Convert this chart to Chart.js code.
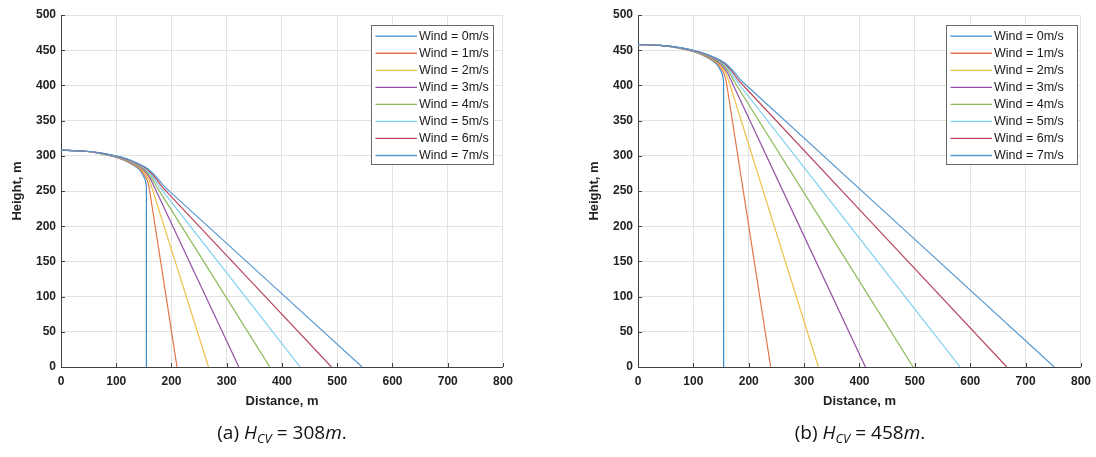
<!DOCTYPE html>
<html>
<head>
<meta charset="utf-8">
<script src="https://cdn.jsdelivr.net/npm/chart.js@4.4.0/dist/chart.umd.min.js"></script>
<style>
html,body{margin:0;padding:0;background:#fff;width:1096px;height:457px;overflow:hidden;}
canvas{position:absolute;top:0;display:block;}
#chartA{left:0;}
#chartB{left:577px;}
.cap{position:absolute;top:420px;transform:translateX(-50%);font-family:"Open Sans","DejaVu Sans",sans-serif;font-size:19px;color:#111;white-space:nowrap;line-height:24px;}
.cap i{font-style:italic;}
.cap sub{font-size:13px;vertical-align:-4px;line-height:0;}
.cap .eq{margin:0 5px;}
#capA{left:282px;}
#capB{left:860px;}
</style>
</head>
<body>
<canvas id="chartA" width="520" height="420"></canvas>
<canvas id="chartB" width="521" height="420"></canvas>
<div class="cap" id="capA">(a) <i>H</i><sub><i>CV</i></sub><span class="eq">=</span>308<i>m</i>.</div>
<div class="cap" id="capB">(b) <i>H</i><sub><i>CV</i></sub><span class="eq">=</span>458<i>m</i>.</div>
<script>
// ---- data ----
const windLabels = ['Wind = 0m/s','Wind = 1m/s','Wind = 2m/s','Wind = 3m/s','Wind = 4m/s','Wind = 5m/s','Wind = 6m/s','Wind = 7m/s'];

// panel (a): H_CV = 308 m
const heightsA = [308, 306.8, 303.2, 297.4, 289.5, 281, 273, 266.5, 261.5, 257.5, 254.5, 249.5, 0];
const distA0 = [0, 38, 72, 102, 125, 141, 148, 152, 153.5, 154.3, 154.6, 154.6, 154.6];
const distA1 = [0, 38.5, 73, 103.5, 127, 143.5, 151, 155.5, 157.5, 158.8, 159.6, 160.6, 210];
const distA2 = [0, 39, 74, 105, 129, 146, 154, 159, 161.5, 163.3, 164.6, 166.6, 267];
const distA3 = [0, 39.5, 75, 106.5, 131, 148.5, 157, 162.5, 165.5, 167.8, 169.6, 172.6, 322];
const distA4 = [0, 40, 76, 108, 133, 151, 160, 166, 169.5, 172.3, 174.6, 178.6, 378];
const distA5 = [0, 40.5, 77, 109.5, 135, 153.5, 163, 169.5, 173.5, 176.8, 179.6, 184.6, 433];
const distA6 = [0, 41, 78, 111, 137, 156, 166, 173, 177.5, 181.3, 184.6, 190.6, 489.5];
const distA7 = [0, 41.5, 79, 112.5, 139, 158.5, 169, 176.5, 181.5, 185.8, 189.6, 196.6, 545];

// panel (b): H_CV = 458 m
const heightsB = [458, 456.8, 453.2, 447.4, 439.5, 431, 423, 416.5, 411.5, 407.5, 404.5, 399.5, 0];
const distB0 = [0, 38, 72, 102, 125, 141, 148, 152, 153.5, 154.3, 154.6, 154.6, 154.6];
const distB1 = [0, 38.5, 73, 103.5, 127, 143.5, 151, 155.5, 157.5, 158.8, 159.6, 160.6, 239.6];
const distB2 = [0, 39, 74, 105, 129, 146, 154, 159, 161.5, 163.3, 164.6, 166.6, 325.7];
const distB3 = [0, 39.5, 75, 106.5, 131, 148.5, 157, 162.5, 165.5, 167.8, 169.6, 172.6, 410.7];
const distB4 = [0, 40, 76, 108, 133, 151, 160, 166, 169.5, 172.3, 174.6, 178.6, 496.9];
const distB5 = [0, 40.5, 77, 109.5, 135, 153.5, 163, 169.5, 173.5, 176.8, 179.6, 184.6, 581.7];
const distB6 = [0, 41, 78, 111, 137, 156, 166, 173, 177.5, 181.3, 184.6, 190.6, 666];
const distB7 = [0, 41.5, 79, 112.5, 139, 158.5, 169, 176.5, 181.5, 185.8, 189.6, 196.6, 751.7];

const xTickMin = 0, xTickMax = 800, xTickStep = 100;
const yTickMin = 0, yTickMax = 500, yTickStep = 50;

// ---- styling ----
const windColors = ['#3a8ccc','#e2764a','#f0bf48','#9552a6','#8cba55','#7ccff0','#b6455d','#5599d2'];
const gridColor = '#e2e2e2';
const axisColor = '#404040';
const tickFont = {family:'"Liberation Sans", Arial, sans-serif', size:12, weight:'bold'};
const titleFont = {family:'"Liberation Sans", Arial, sans-serif', size:13, weight:'bold'};

const insideTicks = {
  id:'insideTicks',
  afterDatasetsDraw(chart){
    const {ctx, chartArea:a, scales:{x,y}} = chart;
    ctx.save();
    ctx.strokeStyle = axisColor; ctx.lineWidth = 1;
    ctx.beginPath();
    x.ticks.forEach(t=>{const px=Math.round(x.getPixelForValue(t.value))+0.5; ctx.moveTo(px,a.bottom); ctx.lineTo(px,a.bottom-4);});
    y.ticks.forEach(t=>{const py=Math.round(y.getPixelForValue(t.value))+0.5; ctx.moveTo(a.left,py); ctx.lineTo(a.left+4,py);});
    ctx.stroke();
    ctx.restore();
  }
};

const insideLegend = {
  id:'insideLegend',
  afterDatasetsDraw(chart, args, opts){
    const {ctx, chartArea:a} = chart;
    const w = opts.width, h = 139;
    const right = a.right - opts.gap;
    const left = Math.round(right - w) + 0.5;
    const top = Math.round(a.top + 10) + 0.5;
    ctx.save();
    ctx.fillStyle = '#fff';
    ctx.fillRect(left, top, w, h);
    ctx.strokeStyle = '#6a6a6a'; ctx.lineWidth = 1;
    ctx.strokeRect(left, top, w, h);
    ctx.font = '12.5px "Liberation Sans", Arial, sans-serif';
    ctx.textBaseline = 'middle';
    ctx.textAlign = 'left';
    chart.data.datasets.forEach((ds,i)=>{
      const cy = top + 10.7 + i*17.04;
      ctx.strokeStyle = ds.borderColor; ctx.lineWidth = 1.3;
      ctx.beginPath(); ctx.moveTo(left+4, cy); ctx.lineTo(left+45.5, cy); ctx.stroke();
      ctx.fillStyle = '#1a1a1a';
      ctx.fillText(ds.label, left+47.5, cy+0.5);
    });
    ctx.restore();
  }
};

function makeChart(id, heights, dists, legendWidth, legendGap){
  const datasets = dists.map((d,i)=>({
    label: windLabels[i],
    data: d.map((x,j)=>({x:x, y:heights[j]})),
    borderColor: windColors[i],
    backgroundColor: windColors[i],
    borderWidth: 1.2,
    pointRadius: 0,
    showLine: true,
    tension: 0.25,
    fill: false,
    order: 7 - i
  }));
  return new Chart(document.getElementById(id), {
    type: 'scatter',
    data: {datasets},
    options: {
      responsive: false,
      animation: false,
      devicePixelRatio: 1,
      layout: {padding: {left:0, right:12, top:15, bottom:0}},
      plugins: {
        legend: {display:false},
        tooltip: {enabled:false},
        insideLegend: {width:legendWidth, gap:legendGap}
      },
      scales: {
        x: {
          type:'linear', min:xTickMin, max:xTickMax,
          ticks:{stepSize:xTickStep, font:tickFont, color:'#222', padding:7, maxRotation:0, autoSkip:false},
          grid:{color:gridColor, drawTicks:false, lineWidth:1},
          border:{color:axisColor, width:1},
          title:{display:true, text:'Distance, m', font:titleFont, color:'#222', padding:{top:0, bottom:11}},
          afterFit(s){ s.height = 53; }
        },
        y: {
          type:'linear', min:yTickMin, max:yTickMax,
          ticks:{stepSize:yTickStep, font:tickFont, color:'#222', padding:5, autoSkip:false},
          grid:{color:gridColor, drawTicks:false, lineWidth:1},
          border:{color:axisColor, width:1},
          title:{display:true, text:'Height, m', font:titleFont, color:'#222', padding:{top:10, bottom:0}},
          afterFit(s){ s.width = 61; }
        }
      }
    },
    plugins: [insideTicks, insideLegend]
  });
}

makeChart('chartA', heightsA, [distA0,distA1,distA2,distA3,distA4,distA5,distA6,distA7], 122, 10);
makeChart('chartB', heightsB, [distB0,distB1,distB2,distB3,distB4,distB5,distB6,distB7], 131, 4);
</script>
</body>
</html>
